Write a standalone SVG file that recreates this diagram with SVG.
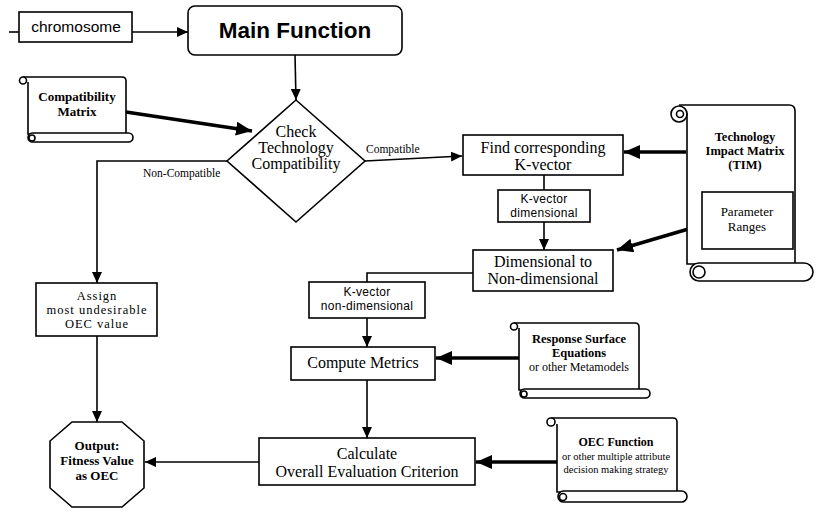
<svg xmlns="http://www.w3.org/2000/svg" width="817" height="518" viewBox="0 0 817 518">
<style>
.box{fill:#fff;stroke:#000;stroke-width:1.6}
.ln{fill:none;stroke:#000;stroke-width:1.6}
.tk{fill:none;stroke:#000;stroke-width:3.5}
text{fill:#000;text-anchor:middle}
.s16{font:16px "Liberation Serif",serif}
.sm{font:11.5px "Liberation Serif",serif;text-anchor:start}
.b13{font:bold 12.5px "Liberation Serif",serif}
.r12{font:12px "Liberation Serif",serif}
.r11{font:10.5px "Liberation Serif",serif}
.r14{font:12.5px "Liberation Serif",serif;letter-spacing:1px}
.h13{font:12px "Liberation Sans",Arial,sans-serif;letter-spacing:0.3px}
</style>
<defs>
<marker id="a" markerUnits="userSpaceOnUse" markerWidth="11" markerHeight="10" refX="11" refY="5" orient="auto"><path d="M0,0 L11,5 L0,10 z" fill="#000"/></marker>
<marker id="ab" markerUnits="userSpaceOnUse" markerWidth="16" markerHeight="14" refX="16" refY="7" orient="auto"><path d="M0,0 L16,7 L0,14 z" fill="#000"/></marker>
</defs>

<g id="connectors">
<line class="ln" x1="9" y1="32" x2="19" y2="32"/>
<line class="ln" x1="132" y1="32" x2="188" y2="32" marker-end="url(#a)"/>
<line class="ln" x1="295" y1="55" x2="296" y2="100" marker-end="url(#a)"/>
<line class="tk" x1="126" y1="112" x2="252" y2="131" marker-end="url(#ab)"/>
<line class="ln" x1="365" y1="161" x2="462" y2="156" marker-end="url(#a)"/>
<polyline class="ln" points="227,161 97,161 97,283" marker-end="url(#a)"/>
<line class="tk" x1="686" y1="152" x2="624" y2="152" marker-end="url(#ab)"/>
<line class="ln" x1="544" y1="175" x2="544" y2="190"/>
<line class="ln" x1="544" y1="222" x2="544" y2="250" marker-end="url(#a)"/>
<line class="tk" x1="702" y1="225" x2="617" y2="250" marker-end="url(#ab)"/>
<polyline class="ln" points="473,273 367,273 367,282"/>
<line class="ln" x1="367" y1="318" x2="367" y2="347" marker-end="url(#a)"/>
<line class="tk" x1="519" y1="358" x2="436" y2="358" marker-end="url(#ab)"/>
<line class="ln" x1="367" y1="380" x2="367" y2="438" marker-end="url(#a)"/>
<line class="tk" x1="557" y1="462" x2="476" y2="462" marker-end="url(#ab)"/>
<line class="ln" x1="259" y1="462" x2="145" y2="462" marker-end="url(#a)"/>
<line class="ln" x1="97" y1="336" x2="97" y2="422" marker-end="url(#a)"/>
<text class="sm" x="366" y="153">Compatible</text>
<text class="sm" x="143" y="177">Non-Compatible</text>
</g>

<g id="chromosome">
<rect class="box" x="19" y="12" width="113" height="30"/>
<text class="h13" style="font-size:15.5px;letter-spacing:0" x="76" y="32">chromosome</text>
</g>

<g id="main">
<rect class="box" x="188" y="6" width="214" height="49" rx="7"/>
<text style="font:bold 22.5px 'Liberation Sans',Arial,sans-serif" x="295" y="38">Main Function</text>
</g>

<g id="compat-matrix">
<path class="box" d="M23,77 H122 Q126,77 126,81 V134 H28 V82"/>
<circle class="box" cx="23" cy="80.5" r="3.5"/>
<rect class="box" x="28" y="133" width="105" height="9" rx="4.5"/>
<circle class="box" cx="32" cy="138" r="3"/>
<text class="b13" style="font-size:13px" x="77" y="101">Compatibility</text>
<text class="b13" style="font-size:13px" x="77" y="116">Matrix</text>
</g>

<g id="check">
<polygon class="box" points="296,100 365,161 296,222 227,161"/>
<text class="s16" x="296" y="137">Check</text>
<text class="s16" x="296" y="153">Technology</text>
<text class="s16" x="296" y="169">Compatibility</text>
</g>

<g id="find">
<rect class="box" x="463" y="135" width="160" height="40"/>
<text class="s16" x="543" y="153">Find corresponding</text>
<text class="s16" x="543" y="169.5">K-vector</text>
</g>

<g id="kvec-dim">
<rect class="box" x="498" y="190" width="92" height="32"/>
<text class="h13" x="544" y="203">K-vector</text>
<text class="h13" x="544" y="216.5">dimensional</text>
</g>

<g id="dim-nondim">
<rect class="box" x="473" y="250" width="140" height="41"/>
<text class="s16" x="543" y="267">Dimensional to</text>
<text class="s16" x="543" y="284">Non-dimensional</text>
</g>

<g id="tim">
<path class="box" d="M679,105 H789 Q795,105 795,111 V264 H687 V113"/>
<circle class="box" cx="679" cy="114" r="8"/>
<circle class="box" cx="680" cy="114" r="3.5"/>
<rect class="box" x="690" y="263" width="123" height="18" rx="9"/>
<circle class="box" cx="699" cy="272" r="6"/>
<text class="b13" x="745" y="141">Technology</text>
<text class="b13" x="745" y="155">Impact Matrix</text>
<text class="b13" x="745" y="169">(TIM)</text>
<rect class="box" x="702" y="192" width="91" height="57"/>
<text class="r12" style="font-size:13px" x="747" y="216">Parameter</text>
<text class="r12" style="font-size:13px" x="747" y="231">Ranges</text>
</g>

<g id="kvec-nondim">
<rect class="box" x="309" y="282" width="116" height="36"/>
<text class="h13" x="367" y="295.5">K-vector</text>
<text class="h13" x="367" y="309.5">non-dimensional</text>
</g>

<g id="compute">
<rect class="box" x="291" y="347" width="144" height="33"/>
<text class="s16" x="363" y="368">Compute Metrics</text>
</g>

<g id="rse">
<path class="box" d="M514,323 H635 Q639,323 639,327 V390 H519 V328"/>
<circle class="box" cx="514" cy="326.5" r="3.5"/>
<rect class="box" x="520" y="389" width="130" height="9" rx="4.5"/>
<circle class="box" cx="524" cy="394" r="3"/>
<text class="b13" x="579" y="343">Response Surface</text>
<text class="b13" x="579" y="357">Equations</text>
<text class="r12" x="579" y="371">or other Metamodels</text>
</g>

<g id="calc">
<rect class="box" x="259" y="438" width="216" height="47"/>
<text class="s16" x="367" y="459">Calculate</text>
<text class="s16" x="367" y="477">Overall Evaluation Criterion</text>
</g>

<g id="oec">
<path class="box" d="M551,418 H673 Q677,418 677,422 V492 H557 V424"/>
<circle class="box" cx="551" cy="422" r="4"/>
<rect class="box" x="558" y="491" width="129" height="11" rx="5.5"/>
<circle class="box" cx="563" cy="497" r="3.5"/>
<text class="b13" style="font-size:12px" x="616" y="446">OEC Function</text>
<text class="r11" x="616" y="459.5">or other multiple attribute</text>
<text class="r11" x="616" y="472.5">decision making strategy</text>
</g>

<g id="assign">
<rect class="box" x="36" y="283" width="121" height="53"/>
<text class="r14" x="97" y="300">Assign</text>
<text class="r14" x="97" y="314">most undesirable</text>
<text class="r14" x="97" y="328">OEC value</text>
</g>

<g id="output">
<polygon class="box" points="72,422 122,422 144,441 144,488 122,507 72,507 50,488 50,441"/>
<text class="b13" style="font-size:13px" x="97" y="450">Output:</text>
<text class="b13" style="font-size:13px" x="97" y="465">Fitness Value</text>
<text class="b13" style="font-size:13px" x="97" y="480">as OEC</text>
</g>
</svg>
